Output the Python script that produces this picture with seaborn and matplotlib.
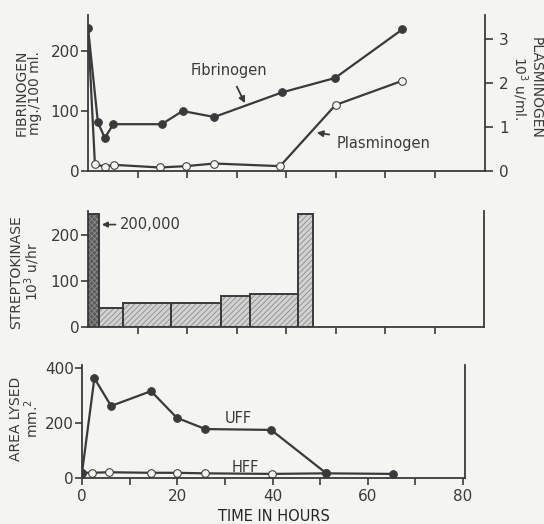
import numpy as np
import matplotlib
matplotlib.use("Agg")
import matplotlib.pyplot as plt
import seaborn as sns

# ------------------------------------------------------------
# dados
# ------------------------------------------------------------
hours_fib = [0, 2, 3.4, 5.1, 14.9, 19.1, 25.5, 39.2, 49.9, 63.5]
fibrinogen = [239, 81, 55, 78, 78, 100, 90, 131, 155, 236]

hours_plg = [0, 1.4, 3.4, 5.3, 14.5, 19.7, 25.5, 38.8, 50, 63.5]
plasminogen = [3.26, 0.15, 0.10, 0.14, 0.08, 0.11, 0.17, 0.11, 1.5, 2.05]

sk_start = [0, 2.3, 7, 16.8, 26.9, 32.8, 42.4]
sk_end = [2.3, 7, 16.8, 26.9, 32.8, 42.4, 45.5]
sk_rate = [245, 41, 51, 51, 67, 71, 245]

hours_uff = [0, 2.6, 6.1, 14.5, 19.9, 25.9, 39.7, 51.3, 65.2]
uff = [20, 364, 263, 317, 220, 179, 176, 18, 16]
hours_hff = [0, 2, 5.6, 14.5, 19.9, 25.9, 39.8, 51.3]
hff = [20, 20, 22, 20, 20, 18, 16, 18]

INK = "#3a3a3a"
PAPER = "#f4f4f2"

sns.set_theme(style="ticks")
plt.rcParams.update({
    "font.family": ["DejaVu Sans"],
    "axes.edgecolor": INK,
    "axes.linewidth": 1.3,
    "axes.facecolor": PAPER,
    "figure.facecolor": PAPER,
    "text.color": INK,
    "xtick.color": INK,
    "ytick.color": INK,
    "xtick.direction": "out",
    "ytick.direction": "out",
    "xtick.major.width": 1.2,
    "ytick.major.width": 1.2,
    "xtick.minor.width": 1.2,
    "hatch.linewidth": 0.6,
})

W, H = 544, 524


def box(left, right, top, bottom):
    return [left / W, 1 - bottom / H, (right - left) / W, (bottom - top) / H]


fig = plt.figure(figsize=(W / 100, H / 100), dpi=100)
ax1 = fig.add_axes(box(88, 485, 15, 171))
ax2 = fig.add_axes(box(88, 484, 211, 326.7))
ax3 = fig.add_axes(box(82, 465, 365, 478.3))

line_kw = dict(color=INK, linewidth=1.6, markersize=5.5, markeredgecolor=INK)
TICK = 11

# ------------------------------------------------------------
# painel superior: fibrinogênio x plasminogênio
# ------------------------------------------------------------
ax1b = ax1.twinx()
sns.lineplot(x=hours_plg, y=plasminogen, ax=ax1b, marker="o", markerfacecolor=PAPER,
             markevery=list(range(1, len(hours_plg))), sort=False, **line_kw)
sns.lineplot(x=hours_fib, y=fibrinogen, ax=ax1, marker="o", markerfacecolor=INK,
             sort=False, **line_kw)
ax1.set_zorder(ax1b.get_zorder() + 1)
ax1.patch.set_visible(False)

ax1.set_xlim(0, 80.2)
ax1.set_ylim(0, 260)
ax1b.set_ylim(0, 3.545)
ax1.set_xticks(np.arange(10, 80, 10))
ax1.set_xticklabels([])
ax1.set_yticks([0, 100, 200])
ax1b.set_yticks([0, 1, 2, 3])
for s in ["top", "right"]:
    ax1.spines[s].set_visible(False)
for s in ["top", "left", "bottom"]:
    ax1b.spines[s].set_visible(False)
ax1b.spines["right"].set_visible(True)
ax1.tick_params(axis="y", length=5, pad=1, labelsize=TICK)
ax1.tick_params(axis="x", length=5)
ax1b.tick_params(axis="y", length=6, pad=4, labelsize=TICK)

arrow = dict(arrowstyle="-|>", color=INK, lw=1.3, shrinkB=0, mutation_scale=9)
ax1.annotate("Fibrinogen", xy=(31.7, 113), xytext=(28.5, 167), ha="center", va="center",
             fontsize=10.5, arrowprops=dict(arrow, shrinkA=4))
ax1.annotate("Plasminogen", xy=(46.2, 64), xytext=(59.7, 46.5), ha="center", va="center",
             fontsize=10.5, arrowprops=dict(arrow, shrinkA=3))

# ------------------------------------------------------------
# painel do meio: estreptoquinase
# ------------------------------------------------------------
edges = sk_start + [sk_end[-1]]
mids = [(a + b) / 2 for a, b in zip(sk_start, sk_end)]
sns.histplot(x=mids, weights=sk_rate, bins=edges, ax=ax2, color="#d2d2d2",
             edgecolor="#8c8c8c", linewidth=0, hatch="//////", alpha=1)
ax2.patches[0].set_facecolor("#5a5a5a")
ax2.patches[0].set_hatch("xxxxxx")
sns.histplot(x=mids, weights=sk_rate, bins=edges, ax=ax2, fill=False,
             color=INK, linewidth=1.4)
ax2.set_xlim(0, 80)
ax2.set_ylim(0, 251.5)
ax2.set_xticks(np.arange(10, 80, 10))
ax2.set_xticklabels([])
ax2.set_yticks([0, 100, 200])
ax2.set_ylabel("")
ax2.spines["top"].set_visible(False)
ax2.tick_params(axis="y", length=5, pad=1, labelsize=TICK)
ax2.tick_params(axis="x", length=5)
ax2.annotate("200,000", xy=(2.8, 222), xytext=(6.5, 222), ha="left", va="center",
             fontsize=10.5, arrowprops=dict(arrowstyle="-|>", color=INK, lw=1.2,
                                            shrinkA=1, shrinkB=0, mutation_scale=8))

# ------------------------------------------------------------
# painel inferior: área lisada
# ------------------------------------------------------------
sns.lineplot(x=hours_hff, y=hff, ax=ax3, marker="o", markerfacecolor=PAPER,
             sort=False, **line_kw)
sns.lineplot(x=hours_uff, y=uff, ax=ax3, marker="o", markerfacecolor=INK,
             sort=False, **line_kw)
ax3.set_xlim(0, 80.4)
ax3.set_ylim(0, 412)
ax3.set_xticks([0, 20, 40, 60, 80])
ax3.set_xticks([10, 30, 50, 70], minor=True)
ax3.set_yticks([0, 200, 400])
ax3.spines["top"].set_visible(False)
ax3.tick_params(axis="y", length=5, pad=1, labelsize=TICK)
ax3.tick_params(axis="x", which="both", length=5, pad=3, labelsize=TICK)
ax3.text(32.9, 218, "UFF", ha="center", va="center", fontsize=10.5)
ax3.text(34.2, 40, "HFF", ha="center", va="center", fontsize=10.5)
ax3.set_xlabel("TIME IN HOURS", fontsize=10.5, labelpad=3)

# rótulos dos eixos
lab = dict(ha="center", va="center", fontsize=10, linespacing=0.95,
           multialignment="center")
fig.text(28 / W, 1 - 93 / H, "FIBRINOGEN\nmg./100 ml.", rotation=90, **lab)
fig.text(526 / W, 1 - 88 / H, "PLASMINOGEN\n10$^3$ u/ml.", rotation=-90, **lab)
fig.text(26 / W, 1 - 272 / H, "STREPTOKINASE\n10$^3$ u/hr", rotation=90, **lab)
fig.text(25 / W, 1 - 419 / H, "AREA LYSED\nmm.$^2$", rotation=90, **lab)

fig.savefig("out.png", dpi=100, facecolor=PAPER)
